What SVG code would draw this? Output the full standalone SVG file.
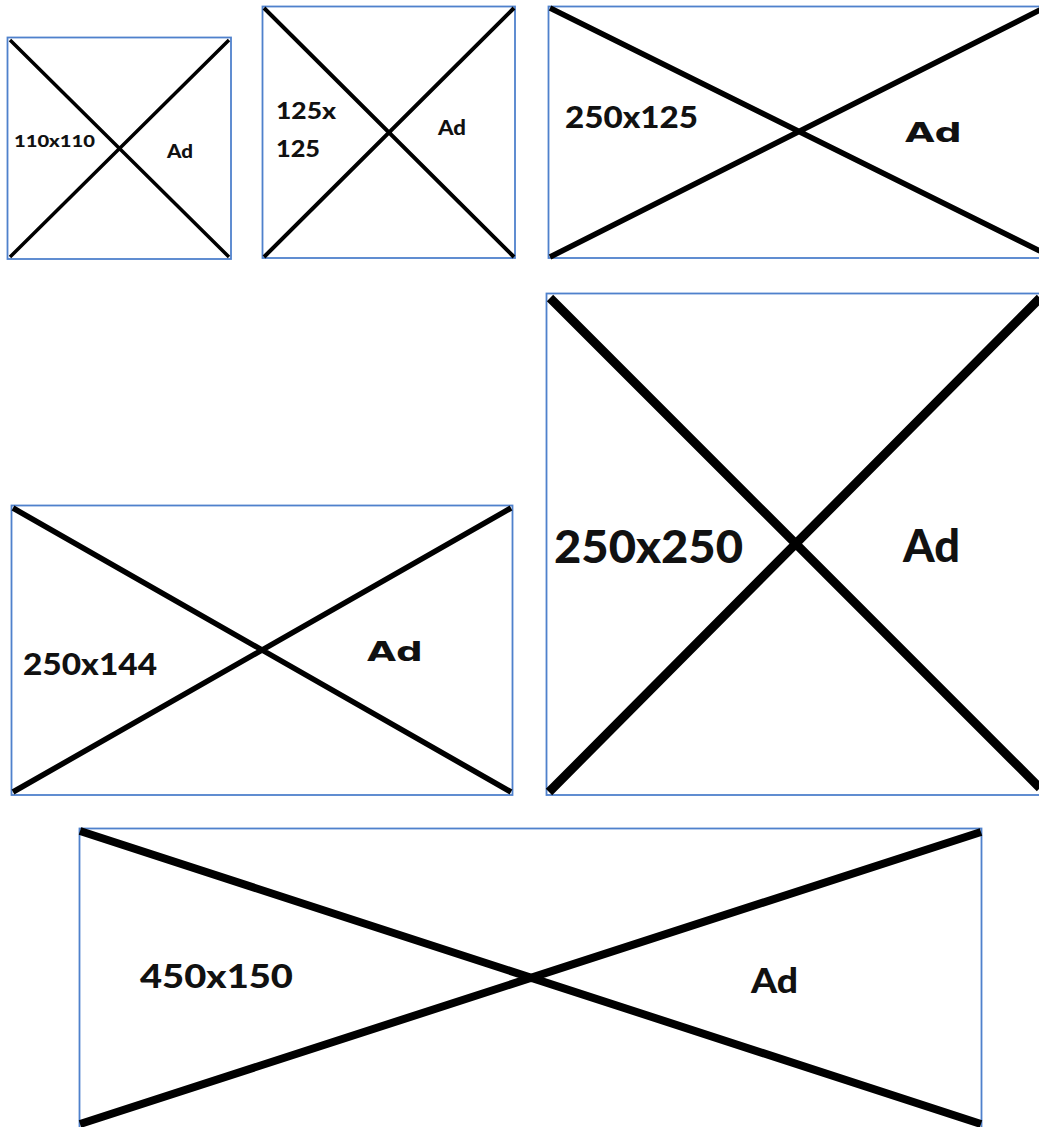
<svg xmlns="http://www.w3.org/2000/svg" width="1039" height="1127" viewBox="0 0 1039 1127">
<style>
.frame{fill:#fff;stroke:#4f81cc;stroke-width:1.8}
.x{stroke:#000;stroke-linecap:butt;fill:none}
.lbl{font-family:Lato,"Open Sans","Liberation Sans",sans-serif;font-weight:900;fill:#111}
.wide{font-family:"DejaVu Sans","Liberation Sans",sans-serif;font-weight:bold;fill:#111}
</style>
<rect width="1039" height="1127" fill="#fff"/>
<g id="ad-110x110">
<rect class="frame" x="7.5" y="37.5" width="223.5" height="221.5"/>
<path class="x" stroke-width="3.5" d="M10,40 L229,257 M10,257 L229,40"/>
<text class="lbl" x="14" y="147" font-size="17" textLength="81" lengthAdjust="spacingAndGlyphs">110x110</text>
<text class="lbl" x="167" y="158" font-size="19" textLength="26" lengthAdjust="spacingAndGlyphs">Ad</text>
</g>
<g id="ad-125x125">
<rect class="frame" x="262.5" y="6.5" width="252.5" height="251.5"/>
<path class="x" stroke-width="4" d="M264,8 L514,257 M264,257 L514,8"/>
<text class="lbl" x="276" y="119" font-size="22" textLength="60" lengthAdjust="spacingAndGlyphs">125x</text>
<text class="lbl" x="276" y="157" font-size="22" textLength="44" lengthAdjust="spacingAndGlyphs">125</text>
<text class="lbl" x="438" y="135" font-size="20" textLength="28" lengthAdjust="spacingAndGlyphs">Ad</text>
</g>
<g id="ad-250x125">
<rect class="frame" x="548.5" y="6.5" width="500" height="251.5"/>
<path class="x" stroke-width="5.5" d="M550,8 L1040,251 M550,257 L1040,10"/>
<text class="lbl" x="565" y="128" font-size="30" textLength="133" lengthAdjust="spacingAndGlyphs">250x125</text>
<text class="wide" x="905" y="142" font-size="26" textLength="57" lengthAdjust="spacingAndGlyphs">Ad</text>
</g>
<g id="ad-250x144">
<rect class="frame" x="11.5" y="505.5" width="501" height="289.5"/>
<path class="x" stroke-width="5.5" d="M13,508 L511,792 M13,792 L511,508"/>
<text class="lbl" x="23" y="675" font-size="31" textLength="134" lengthAdjust="spacingAndGlyphs">250x144</text>
<text class="wide" x="367" y="661" font-size="26" textLength="56" lengthAdjust="spacingAndGlyphs">Ad</text>
</g>
<g id="ad-250x250">
<rect class="frame" x="546.5" y="293.5" width="500" height="501.5"/>
<path class="x" stroke-width="9" d="M550,298 L1040,788 M549,792 L1040,298"/>
<text class="lbl" x="554" y="563" font-size="46" textLength="189" lengthAdjust="spacingAndGlyphs">250x250</text>
<text class="lbl" x="903" y="562" font-size="46" textLength="57" lengthAdjust="spacingAndGlyphs">Ad</text>
</g>
<g id="ad-450x150">
<rect class="frame" x="79.5" y="828.5" width="902" height="310"/>
<path class="x" stroke-width="8" d="M80,831 L981,1124 M80,1124 L981,832"/>
<text class="lbl" x="140" y="988" font-size="33" textLength="153" lengthAdjust="spacingAndGlyphs">450x150</text>
<text class="lbl" x="751" y="993" font-size="34" textLength="47" lengthAdjust="spacingAndGlyphs">Ad</text>
</g>
<g id="connectors"/>
</svg>
